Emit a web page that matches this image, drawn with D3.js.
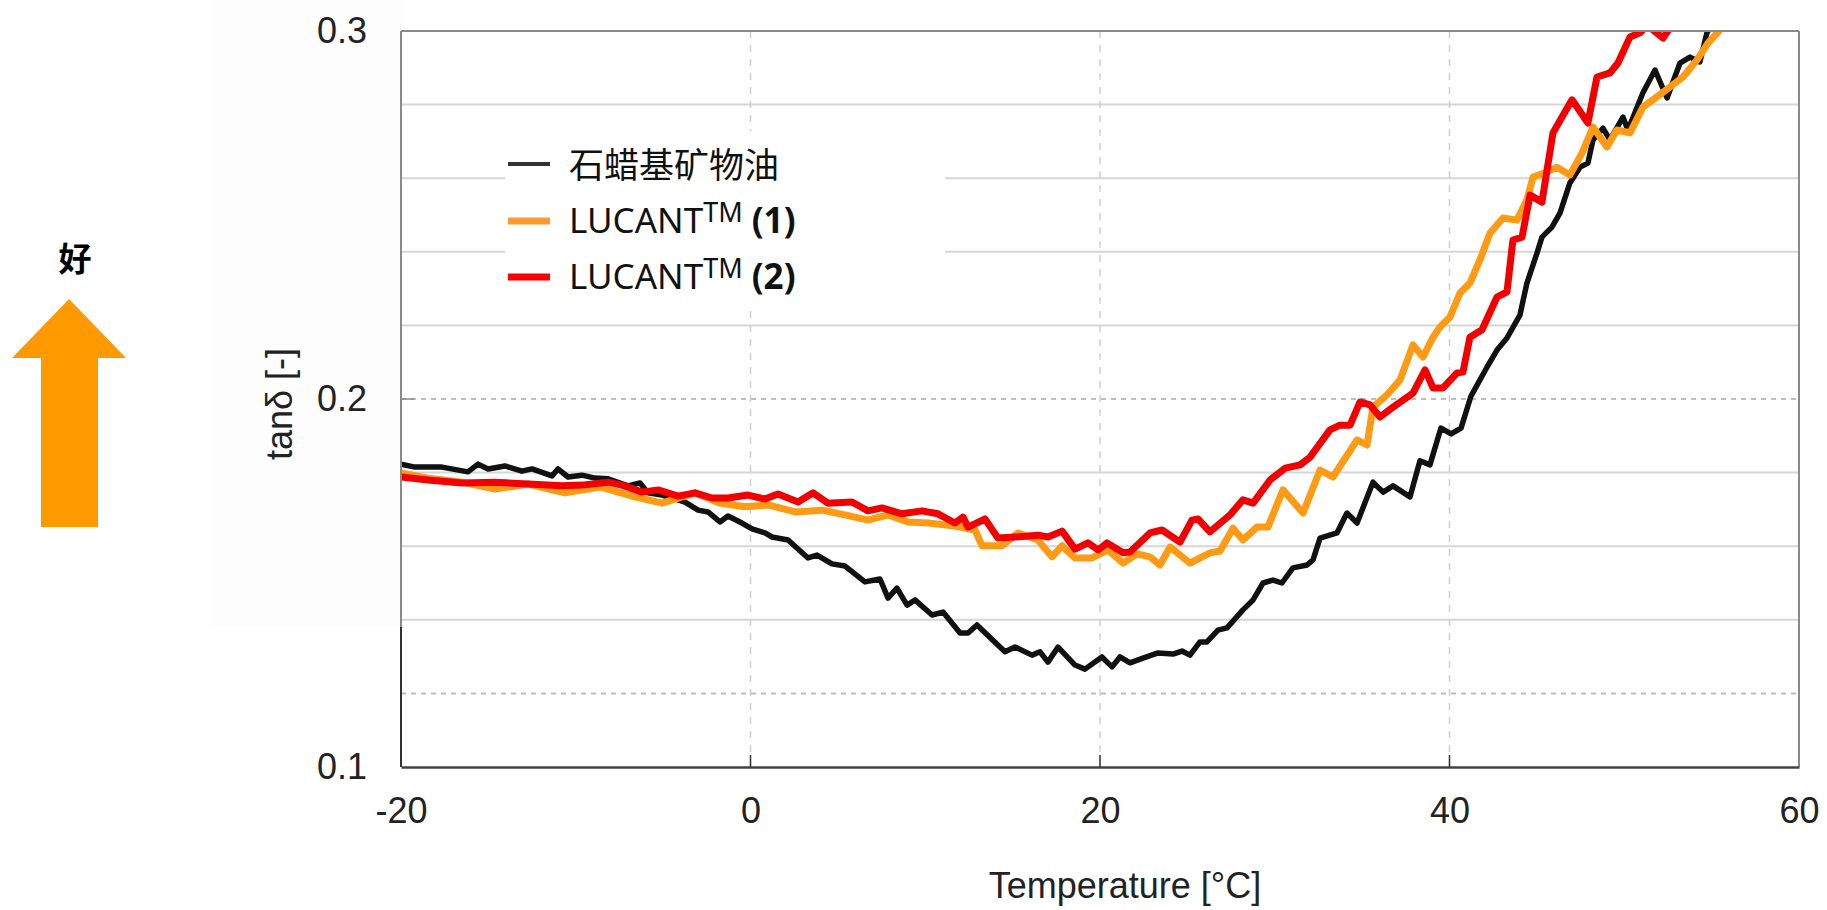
<!DOCTYPE html>
<html>
<head>
<meta charset="utf-8">
<script src="https://cdn.jsdelivr.net/npm/d3@7"></script>
<style>
  html, body { margin: 0; padding: 0; background: #fff; }
  svg { display: block; }
</style>
</head>
<body>
<svg id="chart" width="1827" height="910"></svg>
<script>
// ---------- data ----------
const seriesNames = ["石蜡基矿物油", "LUCANT", "LUCANT"];
const seriesSuffix = ["", "(1)", "(2)"];
const xTicks = [-20, 0, 20, 40, 60];
const yTicks = [0.1, 0.2, 0.3];
const yGrid = [0.12, 0.14, 0.16, 0.18, 0.2, 0.22, 0.24, 0.26, 0.28];
const xGrid = [0, 20, 40];
const xTitle = "Temperature [°C]";
const yTitle = "tanδ [-]";
const sideLabel = "好";

const paraffinT = [-20.0,-19.2,-17.65,-16.17,-15.59,-15.02,-14.05,-13.08,-12.5,-11.36,-11.02,-10.44,-9.64,-8.9,-8.15,-7.01,-6.32,-5.87,-5.06,-4.15,-3.75,-3.0,-2.43,-1.75,-1.29,-0.49,0.09,0.83,1.23,2.15,3.29,3.81,4.66,5.41,6.55,7.41,7.87,8.38,8.96,9.41,10.39,11.02,11.99,12.45,12.96,14.56,15.14,16.11,16.57,17.02,17.6,18.57,19.14,20.11,20.69,21.14,21.72,22.46,23.32,24.18,24.69,25.15,25.72,26.12,26.75,27.27,28.18,28.76,29.33,29.9,30.41,31.04,31.85,32.19,32.59,33.56,34.13,34.71,35.62,36.2,36.77,37.74,38.31,38.88,39.51,40.09,40.66,41.23,42.15,42.72,43.29,44.03,44.43,45.01,45.29,45.86,46.32,46.89,47.47,47.92,48.21,48.78,49.18,49.93,50.21,51.07,51.76,52.45,53.19,53.76,54.33,54.73,55.2];
const paraffinTan = [0.1823,0.1815,0.1815,0.1802,0.1823,0.1810,0.1818,0.1804,0.1810,0.1791,0.1810,0.1788,0.1793,0.1785,0.1783,0.1764,0.1772,0.1745,0.1739,0.1726,0.1720,0.1698,0.1693,0.1666,0.1682,0.1663,0.1647,0.1636,0.1625,0.1617,0.1568,0.1576,0.1552,0.1546,0.1503,0.1511,0.1459,0.1486,0.1440,0.1454,0.1413,0.1421,0.1364,0.1364,0.1386,0.1313,0.1326,0.1304,0.1313,0.1285,0.1326,0.1277,0.1266,0.1299,0.1272,0.1299,0.1283,0.1296,0.1310,0.1307,0.1315,0.1304,0.1340,0.1340,0.1372,0.1378,0.1427,0.1454,0.1500,0.1508,0.1500,0.1541,0.1549,0.1563,0.1622,0.1636,0.1690,0.1663,0.1774,0.1747,0.1764,0.1734,0.1832,0.1821,0.1921,0.1905,0.1921,0.2008,0.2087,0.2133,0.2166,0.2228,0.2315,0.2397,0.2440,0.2467,0.2505,0.2587,0.2630,0.2641,0.2704,0.2736,0.2704,0.2766,0.2731,0.2832,0.2894,0.2818,0.2913,0.2929,0.2916,0.2995,0.3030];

const lucant1T = [-20.0,-18.45,-16.51,-14.62,-12.73,-10.62,-8.61,-6.61,-5.06,-3.18,-1.75,-0.31,1.0,2.55,4.09,5.41,6.72,7.87,9.01,10.16,11.7,12.85,13.25,14.39,15.31,16.45,17.25,17.83,18.57,19.54,20.46,21.32,22.12,22.86,23.43,24.01,25.15,26.29,26.87,27.61,28.18,28.98,29.61,30.47,31.62,32.59,33.33,34.71,35.28,35.62,36.42,37.17,37.91,38.48,39.06,39.46,40.03,40.6,41.17,41.74,42.32,43.06,43.86,44.43,44.78,45.58,46.15,46.89,47.58,48.21,49.01,49.58,50.33,51.07,51.87,52.62,53.36,54.16,54.79,55.48];
const lucant1Tan = [0.1799,0.1785,0.1774,0.1755,0.1769,0.1745,0.1761,0.1734,0.1717,0.1745,0.1717,0.1707,0.1712,0.1693,0.1698,0.1685,0.1671,0.1685,0.1666,0.1663,0.1655,0.1644,0.1601,0.1601,0.1636,0.1617,0.1571,0.1601,0.1568,0.1568,0.1590,0.1554,0.1579,0.1571,0.1549,0.1598,0.1554,0.1582,0.1587,0.1649,0.1617,0.1652,0.1652,0.1753,0.1690,0.1807,0.1788,0.1889,0.1875,0.1978,0.2011,0.2052,0.2147,0.2114,0.2168,0.2196,0.2223,0.2288,0.2315,0.2378,0.2451,0.2492,0.2486,0.2541,0.2603,0.2617,0.2630,0.2609,0.2668,0.2739,0.2685,0.2731,0.2723,0.2793,0.2821,0.2848,0.2875,0.2921,0.2967,0.3003];

const lucant2T = [-20.0,-18.45,-16.51,-14.62,-12.73,-10.79,-9.64,-8.15,-7.35,-6.21,-5.29,-4.15,-3.18,-2.2,-1.29,-0.14,0.83,1.57,2.72,3.58,4.43,5.81,6.72,7.52,8.67,9.81,10.73,11.7,12.16,12.45,13.42,14.16,15.14,16.45,17.02,17.83,18.57,19.31,19.89,20.4,21.32,21.72,22.86,23.55,24.58,25.26,25.61,26.29,27.44,28.18,28.76,29.73,30.59,31.45,32.02,33.16,33.73,34.31,34.88,35.45,36.02,36.77,37.91,38.6,39.06,39.63,40.43,40.77,41.17,41.86,42.72,43.29,43.63,44.15,44.61,45.29,45.92,46.44,47.01,47.92,48.44,49.18,49.64,50.33,50.9,51.3,52.22,52.73];
const lucant2Tan = [0.1788,0.1780,0.1772,0.1774,0.1769,0.1764,0.1766,0.1774,0.1766,0.1747,0.1753,0.1736,0.1745,0.1731,0.1731,0.1739,0.1728,0.1742,0.1720,0.1745,0.1717,0.1720,0.1696,0.1704,0.1688,0.1696,0.1688,0.1663,0.1679,0.1652,0.1674,0.1622,0.1625,0.1630,0.1625,0.1641,0.1592,0.1609,0.1590,0.1609,0.1582,0.1584,0.1636,0.1644,0.1611,0.1671,0.1674,0.1639,0.1685,0.1726,0.1717,0.1780,0.1812,0.1821,0.1842,0.1916,0.1929,0.1929,0.1992,0.1984,0.1951,0.1978,0.2016,0.2079,0.2030,0.2030,0.2071,0.2073,0.2168,0.2188,0.2277,0.2291,0.2432,0.2440,0.2554,0.2535,0.2723,0.2766,0.2813,0.2750,0.2875,0.2886,0.2913,0.2984,0.2995,0.3016,0.2981,0.3016];

// ---------- layout ----------
const svg = d3.select("#chart");
const pLeft = 401, pRight = 1799, pTop = 31, pBottom = 767;
const x = d3.scaleLinear().domain([-20, 60]).range([pLeft, pRight]);
const y = d3.scaleLinear().domain([0.1, 0.3]).range([pBottom, pTop]);
const latin = "'Liberation Sans', Arial, sans-serif";
const legendFont = "'Noto Sans', 'Noto Sans CJK SC', sans-serif";
const isDashed = d => Math.abs(d - 0.2) < 1e-9 || Math.abs(d - 0.12) < 1e-9;

// very faint backdrop left of the axis
svg.append("rect").attr("x", 213).attr("y", 0).attr("width", pLeft - 213).attr("height", 627)
  .attr("fill", "#fdfdfd");

// grid
const grid = svg.append("g");
grid.selectAll("line.h").data(yGrid).join("line")
  .attr("x1", pLeft).attr("x2", pRight)
  .attr("y1", d => y(d)).attr("y2", d => y(d))
  .attr("stroke", d => isDashed(d) ? "#bdbdbd" : "#d6d6d6")
  .attr("stroke-width", 2)
  .attr("stroke-dasharray", d => isDashed(d) ? "5,5" : null);
grid.selectAll("line.v").data(xGrid).join("line")
  .attr("x1", d => x(d)).attr("x2", d => x(d))
  .attr("y1", pTop).attr("y2", pBottom)
  .attr("stroke", "#cfcfcf").attr("stroke-width", 1.5).attr("stroke-dasharray", "7,7");

// clip
svg.append("clipPath").attr("id", "plotclip").append("rect")
  .attr("x", pLeft).attr("y", pTop).attr("width", pRight - pLeft).attr("height", pBottom - pTop);

const line = d3.line().x(d => x(d[0])).y(d => y(d[1]));
const series = [
  { t: paraffinT, v: paraffinTan, color: "#111111", w: 5.5 },
  { t: lucant1T, v: lucant1Tan, color: "#ff9a14", w: 7 },
  { t: lucant2T, v: lucant2Tan, color: "#f20000", w: 7 }
];
const curves = svg.append("g").attr("clip-path", "url(#plotclip)");
series.forEach(s => {
  curves.append("path")
    .datum(s.t.map((t, i) => [t, s.v[i]]))
    .attr("d", line)
    .attr("fill", "none")
    .attr("stroke", s.color)
    .attr("stroke-width", s.w)
    .attr("stroke-linejoin", "round");
});

// frame
svg.append("line").attr("x1", pLeft).attr("x2", pRight).attr("y1", pTop).attr("y2", pTop).attr("stroke", "#8a8a8a").attr("stroke-width", 2);
svg.append("line").attr("x1", pRight).attr("x2", pRight).attr("y1", pTop).attr("y2", pBottom).attr("stroke", "#8a8a8a").attr("stroke-width", 2);
svg.append("line").attr("x1", pLeft).attr("x2", pLeft).attr("y1", pTop).attr("y2", 627).attr("stroke", "#8a8a8a").attr("stroke-width", 2);
svg.append("line").attr("x1", pLeft).attr("x2", pLeft).attr("y1", 627).attr("y2", pBottom).attr("stroke", "#333").attr("stroke-width", 2);

// axes
const xAxis = d3.axisBottom(x).tickValues(xTicks).tickSize(0).tickPadding(30).tickFormat(d => String(d));
const gx = svg.append("g").attr("transform", `translate(0,${pBottom})`).call(xAxis);
gx.select(".domain").attr("stroke", "#444").attr("stroke-width", 2.5);
gx.selectAll("text").attr("font-family", latin).attr("font-size", 36).attr("fill", "#222");
svg.append("g").selectAll("line").data(xGrid).join("line")
  .attr("x1", d => x(d)).attr("x2", d => x(d)).attr("y1", pBottom).attr("y2", pBottom - 12)
  .attr("stroke", "#333").attr("stroke-width", 1.5);
svg.append("line").attr("x1", pLeft).attr("x2", pLeft + 13).attr("y1", y(0.2)).attr("y2", y(0.2))
  .attr("stroke", "#888").attr("stroke-width", 1.5);

const yAxis = d3.axisLeft(y).tickValues(yTicks).tickSize(0).tickPadding(34).tickFormat(d3.format(".1f"));
const gy = svg.append("g").attr("transform", `translate(${pLeft},0)`).call(yAxis);
gy.select(".domain").remove();
gy.selectAll("text").attr("font-family", latin).attr("font-size", 36).attr("fill", "#222");

// titles
svg.append("text").attr("x", 1125).attr("y", 898).attr("text-anchor", "middle")
  .attr("font-family", latin).attr("font-size", 36).attr("fill", "#222").text(xTitle);
svg.append("text").attr("transform", "translate(292,404) rotate(-90)").attr("text-anchor", "middle")
  .attr("font-family", latin).attr("font-size", 36).attr("fill", "#222").text(yTitle);

// legend
const lg = svg.append("g");
lg.append("rect").attr("x", 505).attr("y", 131).attr("width", 440).attr("height", 178).attr("fill", "#fff");
const legendLineY = [164, 221, 277];
const legendBaseY = [178, 233, 289];
const legendLineW = [4, 7, 7];
const legendColors = ["#333333", "#ff9933", "#ff0000"];
seriesNames.forEach((name, i) => {
  lg.append("line").attr("x1", 508).attr("x2", 550).attr("y1", legendLineY[i]).attr("y2", legendLineY[i])
    .attr("stroke", legendColors[i]).attr("stroke-width", legendLineW[i]);
  const t = lg.append("text").attr("x", 569).attr("y", legendBaseY[i])
    .attr("font-family", legendFont).attr("font-size", 35).attr("fill", "#111");
  t.append("tspan").text(name);
  if (seriesSuffix[i]) {
    t.append("tspan").attr("font-size", 27).attr("dy", -11).text("TM");
    t.append("tspan").attr("font-weight", "bold").attr("dy", 11).text(" " + seriesSuffix[i]);
  }
});

// side arrow and label
svg.append("text").attr("x", 75).attr("y", 271).attr("text-anchor", "middle")
  .attr("font-family", "'Noto Sans CJK SC', sans-serif").attr("font-weight", "bold")
  .attr("font-size", 33).attr("fill", "#000").text(sideLabel);
svg.append("polygon")
  .attr("points", "69,299 126,358 98,358 98,527 41,527 41,358 12,358")
  .attr("fill", "#ff9900");
</script>
</body>
</html>
